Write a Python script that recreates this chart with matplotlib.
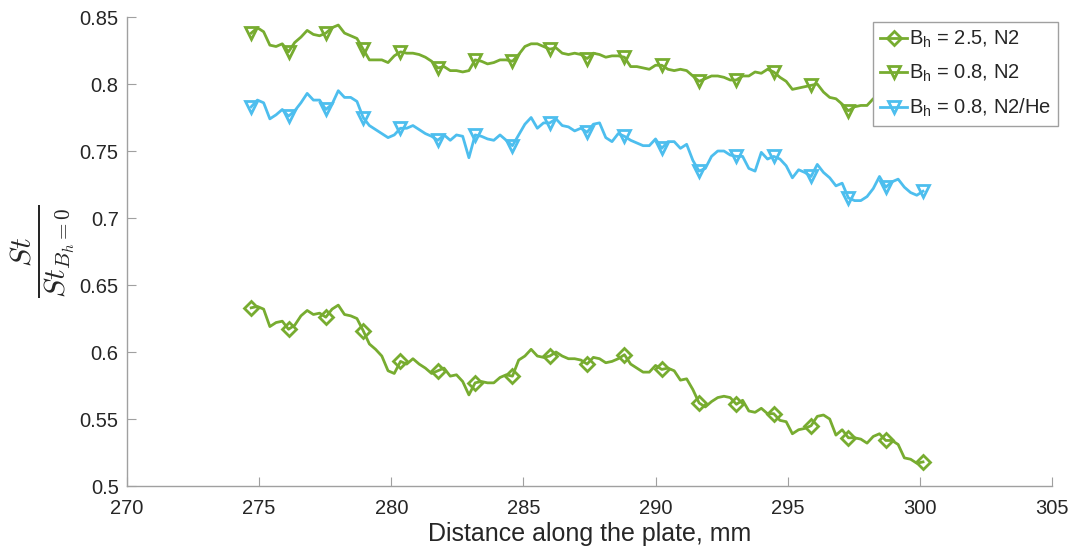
import numpy as np
import matplotlib
matplotlib.use("Agg")
import matplotlib.pyplot as plt

# distance along the plate, mm (uniform probe spacing)
distance = np.linspace(274.7, 300.12, 109)

# Stanton number ratio, B_h = 2.5, N2
st_25_n2 = [
    0.633, 0.634, 0.632, 0.619, 0.622, 0.623, 0.617, 0.620, 0.627, 0.631,
    0.628, 0.629, 0.626, 0.632, 0.635, 0.628, 0.627, 0.625, 0.616, 0.606,
    0.602, 0.597, 0.586, 0.584, 0.593, 0.591, 0.595, 0.591, 0.588, 0.584,
    0.586, 0.588, 0.582, 0.583, 0.578, 0.568, 0.577, 0.578, 0.577, 0.577,
    0.581, 0.583, 0.582, 0.594, 0.597, 0.602, 0.597, 0.596, 0.597, 0.600,
    0.597, 0.595, 0.595, 0.594, 0.591, 0.596, 0.595, 0.592, 0.593, 0.595,
    0.598, 0.591, 0.588, 0.585, 0.585, 0.590, 0.587, 0.588, 0.586, 0.579,
    0.580, 0.572, 0.562, 0.559, 0.563, 0.566, 0.567, 0.566, 0.561, 0.564,
    0.556, 0.555, 0.558, 0.554, 0.554, 0.549, 0.548, 0.539, 0.542, 0.543,
    0.545, 0.552, 0.553, 0.550, 0.538, 0.542, 0.536, 0.536, 0.535, 0.532,
    0.537, 0.539, 0.534, 0.534, 0.531, 0.521, 0.520, 0.517, 0.518,
]

# B_h = 0.8, N2
st_08_n2 = [
    0.838, 0.842, 0.839, 0.829, 0.828, 0.830, 0.824, 0.831, 0.835, 0.840,
    0.837, 0.836, 0.838, 0.842, 0.844, 0.838, 0.836, 0.834, 0.826, 0.818,
    0.818, 0.818, 0.816, 0.821, 0.824, 0.823, 0.823, 0.822, 0.820, 0.817,
    0.812, 0.813, 0.810, 0.810, 0.809, 0.810, 0.818, 0.817, 0.815, 0.816,
    0.818, 0.818, 0.817, 0.822, 0.828, 0.830, 0.830, 0.828, 0.826, 0.827,
    0.823, 0.822, 0.823, 0.822, 0.819, 0.823, 0.822, 0.820, 0.821, 0.821,
    0.820, 0.813, 0.813, 0.812, 0.811, 0.814, 0.814, 0.811, 0.810, 0.811,
    0.810, 0.806, 0.802, 0.804, 0.806, 0.806, 0.805, 0.803, 0.803, 0.806,
    0.806, 0.809, 0.808, 0.811, 0.809, 0.805, 0.802, 0.796, 0.797, 0.798,
    0.799, 0.800, 0.794, 0.790, 0.789, 0.785, 0.780, 0.783, 0.784, 0.784,
    0.789, 0.791, 0.792, 0.790, 0.791, 0.789, 0.788, 0.789, 0.787,
]

# B_h = 0.8, N2/He
st_08_n2he = [
    0.783, 0.788, 0.786, 0.774, 0.777, 0.781, 0.776, 0.780, 0.786, 0.793,
    0.788, 0.788, 0.781, 0.785, 0.795, 0.790, 0.790, 0.787, 0.775, 0.769,
    0.766, 0.763, 0.760, 0.762, 0.767, 0.767, 0.769, 0.766, 0.763, 0.761,
    0.758, 0.762, 0.758, 0.762, 0.761, 0.745, 0.762, 0.761, 0.759, 0.758,
    0.762, 0.758, 0.754, 0.762, 0.770, 0.775, 0.767, 0.771, 0.771, 0.774,
    0.769, 0.768, 0.765, 0.767, 0.764, 0.770, 0.771, 0.760, 0.757, 0.763,
    0.761, 0.758, 0.756, 0.754, 0.754, 0.759, 0.752, 0.757, 0.757, 0.752,
    0.755, 0.743, 0.735, 0.737, 0.746, 0.750, 0.750, 0.747, 0.746, 0.746,
    0.737, 0.735, 0.749, 0.744, 0.746, 0.744, 0.739, 0.730, 0.736, 0.734,
    0.731, 0.740, 0.734, 0.730, 0.724, 0.726, 0.715, 0.713, 0.713, 0.716,
    0.722, 0.731, 0.723, 0.727, 0.729, 0.723, 0.719, 0.717, 0.720,
]

labels = [
    r"B$_\mathregular{h}$ = 2.5, N2",
    r"B$_\mathregular{h}$ = 0.8, N2",
    r"B$_\mathregular{h}$ = 0.8, N2/He",
]

GREEN = "#77AC30"
BLUE = "#4DBEEE"
TEXT = "#262626"
AXIS = "#a0a0a0"

plt.rcParams["font.family"] = ["Liberation Sans", "DejaVu Sans"]


def main():
    fig = plt.figure(figsize=(10.76, 5.54), dpi=100)
    ax = fig.add_axes([0.118, 0.1227, 0.8597, 0.8466])

    style = dict(lw=2, ms=8, mew=2, mfc="none", markevery=6)
    ax.plot(distance, st_25_n2, color=GREEN, marker="D", label=labels[0],
            **dict(style, ms=7))
    ax.plot(distance, st_08_n2, color=GREEN, marker="v", label=labels[1], **style)
    ax.plot(distance, st_08_n2he, color=BLUE, marker="v", label=labels[2], **style)

    ax.set_xlim(270, 305)
    ax.set_ylim(0.5, 0.85)
    ax.set_xticks(np.arange(270, 306, 5))
    ax.set_yticks([0.5, 0.55, 0.6, 0.65, 0.7, 0.75, 0.8, 0.85])
    ax.set_yticklabels(["0.5", "0.55", "0.6", "0.65", "0.7", "0.75", "0.8", "0.85"])

    # only left and bottom axis lines, ticks pointing inwards
    ax.spines["top"].set_visible(False)
    ax.spines["right"].set_visible(False)
    for side in ("left", "bottom"):
        ax.spines[side].set_color(AXIS)
        ax.spines[side].set_linewidth(1)
    ax.tick_params(direction="in", length=6.5, width=0.8, color=AXIS,
                   labelsize=14.5, labelcolor=TEXT)
    ax.tick_params(axis="x", pad=9)
    ax.tick_params(axis="y", pad=6)

    ax.set_xlabel("Distance along the plate, mm", fontsize=18, color=TEXT,
                  labelpad=3)
    ax.set_ylabel(r"$\frac{St}{St_{B_h=0}}$", fontsize=31, color=TEXT,
                  math_fontfamily="cm", labelpad=2)

    leg = ax.legend(loc="upper right", bbox_to_anchor=(1058 / 1076, 1 - 22 / 554),
                    bbox_transform=fig.transFigure, borderaxespad=0,
                    fontsize=14.5, handlelength=1.3, handletextpad=0.1,
                    labelspacing=0.62, borderpad=0.35, fancybox=False,
                    framealpha=1, edgecolor=AXIS)
    leg.get_frame().set_linewidth(1)
    for t in leg.get_texts():
        t.set_color(TEXT)

    fig.savefig("out.png", dpi=100)


if __name__ == "__main__":
    main()
